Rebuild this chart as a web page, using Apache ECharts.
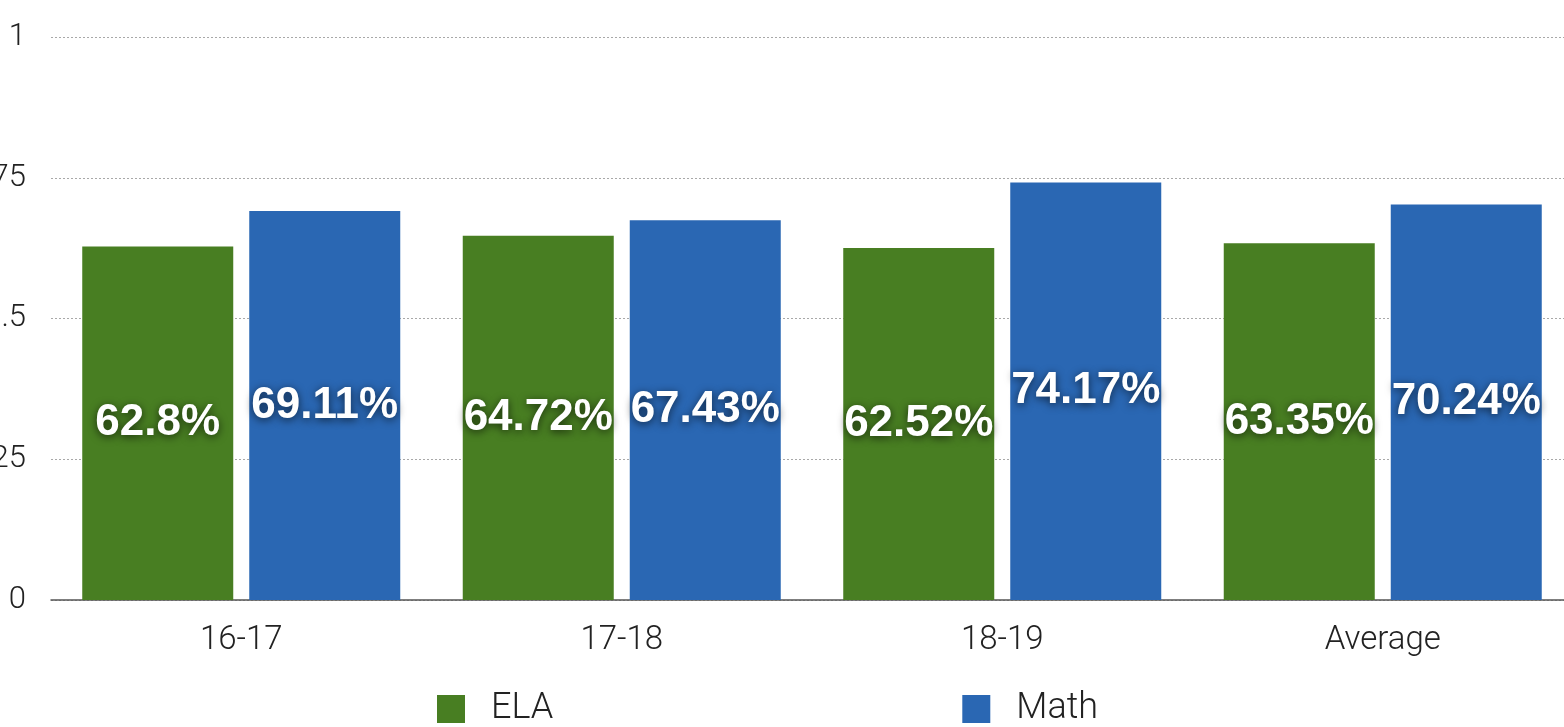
<!DOCTYPE html>
<html>
<head>
<meta charset="utf-8">
<script src="https://cdn.jsdelivr.net/npm/echarts@6/dist/echarts.min.js"></script>
<style>
  html, body { margin: 0; padding: 0; background: #fff; }
  #chart { width: 1564px; height: 727px; }
</style>
</head>
<body>
<div id="chart"></div>
<script>
const categories = ['16-17', '17-18', '18-19', 'Average'];
const elaValues = [62.8, 64.72, 62.52, 63.35];
const mathValues = [69.11, 67.43, 74.17, 70.24];
const yTickLabels = ['0', '.25', '.5', '.75', '1'];

const colors = {
  ela: '#487e22',
  math: '#2a67b3',
  text: '#222222',
  axis: '#555555',
  grid: '#a8a8a8'
};

const chart = echarts.init(document.getElementById('chart'));

const barLabel = {
  show: true,
  position: 'inside',
  formatter: (p) => p.value + '%',
  color: '#ffffff',
  fontFamily: 'Liberation Sans',
  fontWeight: 'bold',
  fontSize: 44,
  textShadowColor: 'rgba(0,0,0,0.65)',
  textShadowBlur: 8,
  textShadowOffsetY: 2
};

chart.setOption({
  animation: false,
  grid: { left: 51, top: 37, width: 1522, height: 563, containLabel: false, outerBoundsMode: 'none' },
  legend: {
    data: ['ELA', 'Math'],
    left: 432,
    top: 686,
    icon: 'rect',
    itemWidth: 28,
    itemHeight: 28,
    itemGap: 409,
    textStyle: {
      fontFamily: 'Roboto',
      fontWeight: 300,
      fontSize: 36,
      lineHeight: 28,
      color: colors.text,
      padding: [0, 0, 0, 21]
    }
  },
  xAxis: {
    type: 'category',
    data: categories,
    axisTick: { show: false },
    axisLine: { lineStyle: { color: colors.axis, width: 1.5 } },
    axisLabel: {
      margin: 24,
      fontFamily: 'Roboto',
      fontWeight: 300,
      fontSize: 33,
      color: colors.text
    }
  },
  yAxis: {
    type: 'value',
    min: 0,
    max: 100,
    interval: 25,
    axisLine: { show: false },
    axisTick: { show: false },
    axisLabel: {
      margin: 25,
      fontFamily: 'Roboto',
      fontWeight: 300,
      fontSize: 31,
      color: colors.text,
      formatter: (v) => yTickLabels[Math.round(v / 25)]
    },
    splitLine: { lineStyle: { color: colors.grid, type: [2, 2], width: 1 } }
  },
  series: [
    {
      name: 'ELA',
      type: 'bar',
      data: elaValues,
      barWidth: 151,
      barGap: '10.6%',
      itemStyle: { color: colors.ela },
      label: barLabel
    },
    {
      name: 'Math',
      type: 'bar',
      data: mathValues,
      barWidth: 151,
      itemStyle: { color: colors.math },
      label: barLabel
    }
  ]
});
</script>
</body>
</html>
